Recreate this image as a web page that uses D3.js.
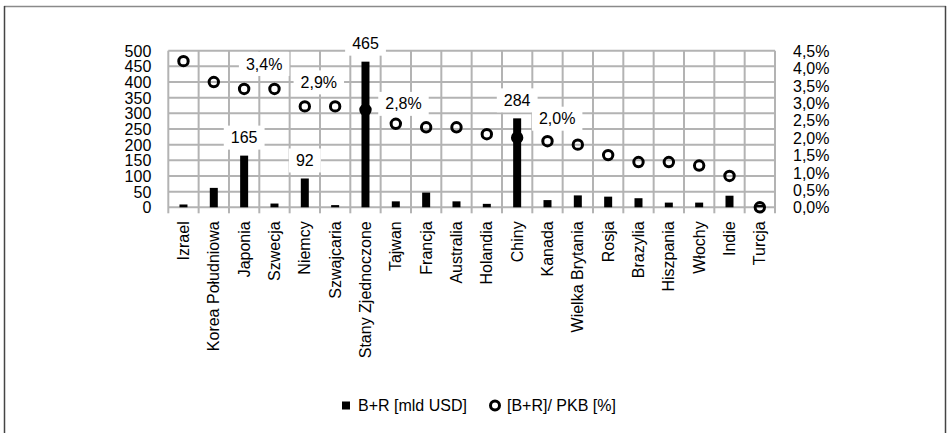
<!DOCTYPE html>
<html>
<head>
<meta charset="utf-8">
<script src="https://cdn.jsdelivr.net/npm/d3@7"></script>
<style>
  html, body { margin: 0; padding: 0; background: #fff; }
  svg { display: block; font-family: "Liberation Sans", Arial, sans-serif; }
</style>
</head>
<body>
<svg id="chart" width="950" height="433"></svg>
<script>
// Countries, R&D spending (bn USD) and R&D as share of GDP (%)
const countries = ["Izrael", "Korea Południowa", "Japonia", "Szwecja", "Niemcy", "Szwajcaria",
  "Stany Zjednoczone", "Tajwan", "Francja", "Australia", "Holandia", "Chiny", "Kanada",
  "Wielka Brytania", "Rosja", "Brazylia", "Hiszpania", "Włochy", "Indie", "Turcja"];
const spending = [9, 62, 165, 12, 92, 7, 465, 19, 47, 19, 11, 284, 23, 38, 34, 29, 15, 15, 37, 8];
const gdpShare = [4.2, 3.6, 3.4, 3.4, 2.9, 2.9, 2.8, 2.4, 2.3, 2.3, 2.1, 2.0, 1.9, 1.8, 1.5, 1.3, 1.3, 1.2, 0.9, 0.0];
const leftTicks = [0, 50, 100, 150, 200, 250, 300, 350, 400, 450, 500];
const rightTicks = [0, 0.5, 1.0, 1.5, 2.0, 2.5, 3.0, 3.5, 4.0, 4.5];
const seriesNames = ["B+R [mld USD]", "[B+R]/ PKB [%]"];
// Countries whose values get a printed label
const labelledSpending = ["Japonia", "Niemcy", "Stany Zjednoczone", "Chiny"];
const labelledShare = ["Japonia", "Niemcy", "Stany Zjednoczone", "Chiny"];

// Label placement for the percentage labels (offset from the marker)
const shareLabelOffset = {
  "Japonia": [20, -25],
  "Niemcy": [14, -24],
  "Stany Zjednoczone": [38, -6],
  "Chiny": [40, -19]
};

const svg = d3.select("#chart");
const plot = { left: 168.3, right: 775, top: 50.7, bottom: 207.3 };
const FONT = 16;
const gridColor = "#b3b3b3";

const x = d3.scaleBand().domain(countries).range([plot.left, plot.right]).padding(0);
const yL = d3.scaleLinear().domain([0, 500]).range([plot.bottom, plot.top]);
const yR = d3.scaleLinear().domain([0, 4.5]).range([plot.bottom, plot.top]);
const fmtPct = v => d3.format(".1f")(v).replace(".", ",") + "%";

// Chart frame
svg.append("line").attr("x1", 4).attr("x2", 946).attr("y1", 6.5).attr("y2", 6.5)
  .attr("stroke", "#8a8a8a").attr("stroke-width", 1.5);
svg.append("line").attr("x1", 4.5).attr("x2", 4.5).attr("y1", 6).attr("y2", 433)
  .attr("stroke", "#444").attr("stroke-width", 1.5);
svg.append("line").attr("x1", 945.5).attr("x2", 945.5).attr("y1", 6).attr("y2", 433)
  .attr("stroke", "#444").attr("stroke-width", 1.5);

// Horizontal gridlines
svg.append("g").selectAll("line").data(leftTicks).join("line")
  .attr("x1", plot.left).attr("x2", plot.right)
  .attr("y1", d => yL(d)).attr("y2", d => yL(d))
  .attr("stroke", gridColor).attr("stroke-width", 2);

// Vertical gridlines at category boundaries, extending below as tick marks
const bounds = countries.map(c => x(c)).concat([plot.right]);
svg.append("g").selectAll("line").data(bounds).join("line")
  .attr("x1", d => d).attr("x2", d => d)
  .attr("y1", plot.top).attr("y2", plot.bottom + 6)
  .attr("stroke", gridColor).attr("stroke-width", 2);

// Left axis
const leftAxis = d3.axisLeft(yL).tickValues(leftTicks).tickSize(0).tickPadding(0);
const gL = svg.append("g").attr("transform", `translate(${plot.left - 17},0)`).call(leftAxis);
gL.select(".domain").remove();
gL.selectAll("text").attr("font-size", FONT).attr("fill", "#000")
  .attr("font-family", "'Liberation Sans', Arial, sans-serif").attr("dy", "0.35em");

// Right axis
const rightAxis = d3.axisRight(yR).tickValues(rightTicks).tickSize(0).tickPadding(0).tickFormat(fmtPct);
const gR = svg.append("g").attr("transform", `translate(${plot.right + 18},0)`).call(rightAxis);
gR.select(".domain").remove();
gR.selectAll("text").attr("font-size", FONT).attr("fill", "#000")
  .attr("font-family", "'Liberation Sans', Arial, sans-serif").attr("dy", "0.35em");

// Category axis labels (rotated)
const xAxis = d3.axisBottom(x).tickSize(0).tickPadding(0);
const gX = svg.append("g").attr("transform", `translate(0,${plot.bottom})`).call(xAxis);
gX.select(".domain").remove();
gX.selectAll("text")
  .attr("font-size", FONT).attr("fill", "#000")
  .attr("font-family", "'Liberation Sans', Arial, sans-serif")
  .attr("text-anchor", "end")
  .attr("transform", "rotate(-90)")
  .attr("x", -14).attr("y", 0).attr("dy", "0.35em");

// Bars
const barW = 8;
const data = countries.map((c, i) => ({ c, v: spending[i], p: gdpShare[i] }));
svg.append("g").selectAll("rect").data(data).join("rect")
  .attr("x", d => x(d.c) + x.bandwidth() / 2 - barW / 2)
  .attr("width", barW)
  .attr("y", d => yL(d.v))
  .attr("height", d => yL(0) - yL(d.v))
  .attr("fill", "#000");

// Markers
svg.append("g").selectAll("circle").data(data).join("circle")
  .attr("cx", d => x(d.c) + x.bandwidth() / 2)
  .attr("cy", d => yR(d.p))
  .attr("r", 4.7)
  .attr("fill", "none")
  .attr("stroke", "#000")
  .attr("stroke-width", 3);

// Labels with white boxes
function boxedLabel(cx, cy, text) {
  const g = svg.append("g");
  const t = g.append("text").attr("x", cx).attr("y", cy).attr("dy", "0.35em")
    .attr("text-anchor", "middle").attr("font-size", FONT).attr("fill", "#000").text(text);
  const bb = t.node().getBBox();
  g.insert("rect", "text")
    .attr("x", bb.x - 7).attr("y", cy - 12)
    .attr("width", bb.width + 14).attr("height", 24)
    .attr("fill", "#fff");
}

data.filter(d => labelledSpending.includes(d.c)).forEach(d => {
  boxedLabel(x(d.c) + x.bandwidth() / 2, yL(d.v) - 18, String(d.v));
});
data.filter(d => labelledShare.includes(d.c)).forEach(d => {
  const off = shareLabelOffset[d.c];
  boxedLabel(x(d.c) + x.bandwidth() / 2 + off[0], yR(d.p) + off[1], fmtPct(d.p));
});

// Legend
const leg = svg.append("g");
leg.append("rect").attr("x", 342).attr("y", 401.5).attr("width", 8).attr("height", 8).attr("fill", "#000");
leg.append("text").attr("x", 358).attr("y", 405.5).attr("dy", "0.35em")
  .attr("font-size", FONT).attr("fill", "#000").text(seriesNames[0]);
leg.append("circle").attr("cx", 495).attr("cy", 405.5).attr("r", 4.5)
  .attr("fill", "none").attr("stroke", "#000").attr("stroke-width", 3);
leg.append("text").attr("x", 507).attr("y", 405.5).attr("dy", "0.35em")
  .attr("font-size", FONT).attr("fill", "#000").text(seriesNames[1]);
</script>
</body>
</html>
